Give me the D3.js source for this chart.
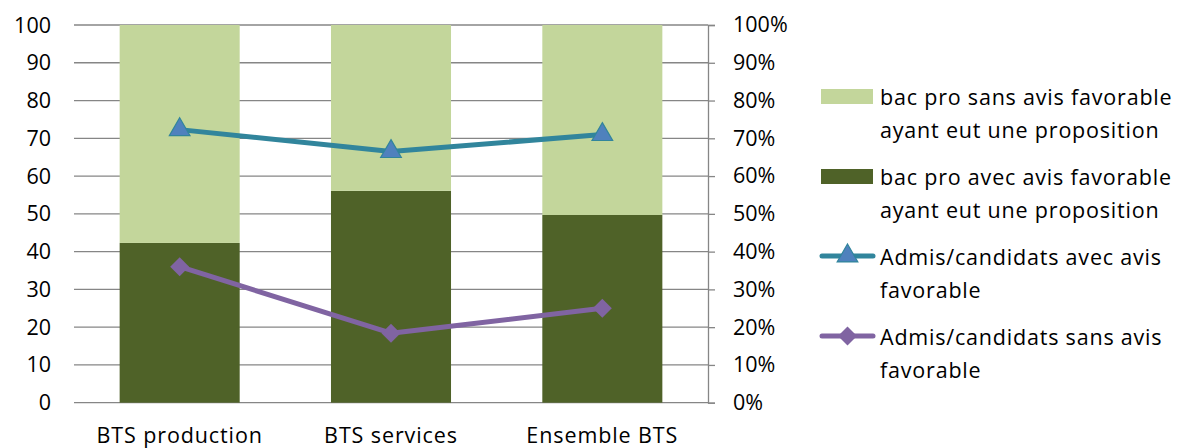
<!DOCTYPE html>
<html><head><meta charset="utf-8">
<script src="https://cdn.jsdelivr.net/npm/d3@7"></script>
<style>body{margin:0;background:#fff}text{font-family:"Open Sans",sans-serif;fill:#000}</style>
</head><body><svg id="c" width="1178" height="448"></svg>
<script>
const categories = ["BTS production", "BTS services", "Ensemble BTS"];
const avecAvis = [42.3, 56.1, 49.7];
const sansAvis = [57.7, 43.9, 50.3];
const admisAvec = [72.3, 66.5, 71.0];
const admisSans = [36.0, 18.4, 25.0];
const leftTicks = [0,10,20,30,40,50,60,70,80,90,100];
const rightTicks = [0,0.1,0.2,0.3,0.4,0.5,0.6,0.7,0.8,0.9,1];
const legendLabels = [
  ["bac pro sans avis favorable","ayant eut une proposition"],
  ["bac pro avec avis favorable","ayant eut une proposition"],
  ["Admis/candidats avec avis","favorable"],
  ["Admis/candidats sans avis","favorable"]
];

const svg = d3.select("#c");
const L = 74, R = 708, T = 25, B = 402.7;
const x = d3.scaleBand().domain(categories).range([L, R]).paddingInner(0.432).paddingOuter(0.216);
const y = d3.scaleLinear().domain([0,100]).range([B, T]);
const y2 = d3.scaleLinear().domain([0,1]).range([B, T]);
const fs = 21.5;

svg.append("g").selectAll("line").data(leftTicks).join("line")
  .attr("x1", L).attr("x2", R).attr("y1", d=>y(d)).attr("y2", d=>y(d))
  .attr("stroke", "#868686").attr("stroke-width", 1.3);

svg.append("g").selectAll("text").data(leftTicks).join("text")
  .attr("x", 51).attr("y", d=>y(d)).attr("dy", "0.35em").attr("text-anchor","end")
  .attr("font-size", fs).text(d=>d);

const colors = {light:"#C3D69B", dark:"#4F6228"};
const bw = x.bandwidth();
svg.append("g").selectAll("rect").data(categories).join("rect")
  .attr("x", d=>x(d)).attr("width", bw)
  .attr("y", (d,i)=>y(avecAvis[i])).attr("height", (d,i)=>y(0)-y(avecAvis[i]))
  .attr("fill", colors.dark);
svg.append("g").selectAll("rect").data(categories).join("rect")
  .attr("x", d=>x(d)).attr("width", bw)
  .attr("y", (d,i)=>y(avecAvis[i]+sansAvis[i])).attr("height", (d,i)=>y(avecAvis[i])-y(avecAvis[i]+sansAvis[i]))
  .attr("fill", colors.light);

const ra = d3.axisRight(y2).tickValues(rightTicks).tickFormat(d3.format(".0%")).tickSize(7).tickPadding(18);
const rg = svg.append("g").attr("transform", `translate(${R},0)`).call(ra);
rg.select(".domain").attr("stroke","#868686").attr("stroke-width",1.3);
rg.selectAll(".tick line").attr("stroke","#868686").attr("stroke-width",1.3);
rg.selectAll(".tick text").attr("font-size", fs).attr("font-family","Open Sans").attr("fill","#000");

svg.append("g").selectAll("text").data(categories).join("text")
  .attr("x", d=>x(d)+bw/2).attr("y", 443).attr("text-anchor","middle")
  .attr("font-size", fs).attr("letter-spacing", 0.9).text(d=>d);

const cx = (d,i)=>x(categories[i])+bw/2;
const line = d3.line().x((d,i)=>cx(d,i)).y(d=>y(d));
const teal = "#31859C", blue = "#4F81BD", purple = "#8064A2";
svg.append("path").datum(admisAvec).attr("d", line).attr("fill","none").attr("stroke",teal).attr("stroke-width",5).attr("stroke-linejoin","round");
svg.append("path").datum(admisSans).attr("d", line).attr("fill","none").attr("stroke",purple).attr("stroke-width",5).attr("stroke-linejoin","round");

const tri = d3.symbol().type(d3.symbolTriangle).size(185);
const dia = d3.symbol().type(d3.symbolSquare).size(180);
svg.append("g").selectAll("path").data(admisAvec).join("path")
  .attr("d", tri).attr("transform",(d,i)=>`translate(${cx(d,i)},${y(d)})`)
  .attr("fill", blue).attr("stroke", teal).attr("stroke-width",1.2);
svg.append("g").selectAll("path").data(admisSans).join("path")
  .attr("d", dia).attr("transform",(d,i)=>`translate(${cx(d,i)},${y(d)}) rotate(45)`)
  .attr("fill", purple);

const lgY = [97, 177, 257, 337];
const lg = svg.append("g");
lgY.forEach((ly, k)=>{
  if (k < 2) {
    lg.append("rect").attr("x", 821).attr("y", ly-8).attr("width", 52).attr("height", 15)
      .attr("fill", k===0 ? colors.light : colors.dark);
  } else {
    const c = k===2 ? teal : purple;
    lg.append("line").attr("x1", 822).attr("x2", 873).attr("y1", ly-1).attr("y2", ly-1)
      .attr("stroke", c).attr("stroke-width", 5).attr("stroke-linecap","round");
    lg.append("path").attr("d", k===2 ? tri : dia).attr("transform",`translate(847.5,${ly-1})` + (k===3 ? " rotate(45)" : ""))
      .attr("fill", k===2 ? blue : purple).attr("stroke", k===2 ? teal : "none").attr("stroke-width",1.2);
  }
  legendLabels[k].forEach((t, j)=>{
    lg.append("text").attr("x", 880).attr("y", ly + j*33).attr("dy","0.35em")
      .attr("font-size", fs).attr("letter-spacing", 0.8).text(t);
  });
});
</script></body></html>
